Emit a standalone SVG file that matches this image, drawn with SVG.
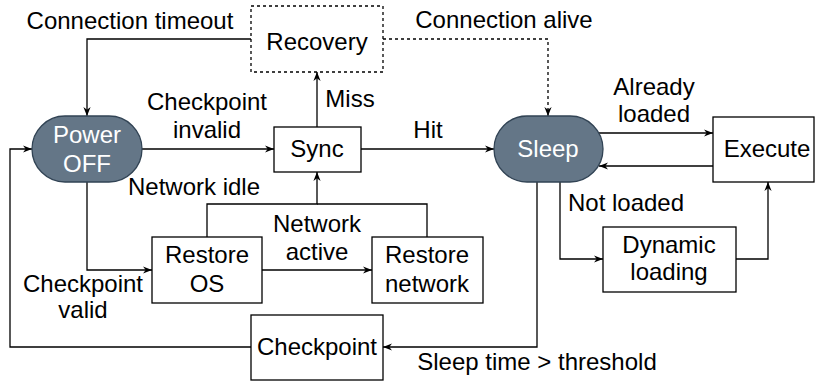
<svg xmlns="http://www.w3.org/2000/svg" width="815" height="381" viewBox="0 0 815 381">
<style>
text{font-family:"Liberation Sans",Arial,sans-serif;font-size:24px;fill:#000;text-anchor:middle}
.box{fill:#fff;stroke:#000;stroke-width:1.3}
.dash{stroke-dasharray:3,3}
.pill{fill:#647687;stroke:#314354;stroke-width:1.3}
.wt{fill:#fff}
.c{fill:none;stroke:#000;stroke-width:1.3}
</style>
<defs>
<marker id="a" viewBox="0 0 10 8" markerWidth="9" markerHeight="7.5" refX="10" refY="4" orient="auto" markerUnits="userSpaceOnUse">
<path d="M0,0 L10,4 L0,8 L3,4 z" fill="#000"/>
</marker>
</defs>
<g id="connectors">
<path class="c" d="M251,39 H87 V116" marker-end="url(#a)"/>
<path class="c" d="M317,127 V72" marker-end="url(#a)"/>
<path class="c" d="M142,149 H274" marker-end="url(#a)"/>
<path class="c" d="M361,149 H494" marker-end="url(#a)"/>
<path class="c dash" d="M383,39 H548 V116" marker-end="url(#a)"/>
<path class="c" d="M599,133 H713" marker-end="url(#a)"/>
<path class="c" d="M713,166 H599" marker-end="url(#a)"/>
<path class="c" d="M560,182 V259 H603" marker-end="url(#a)"/>
<path class="c" d="M736,259 H768 V182" marker-end="url(#a)"/>
<path class="c" d="M537,182 V347 H383" marker-end="url(#a)"/>
<path class="c" d="M251,347 H10 V149 H32" marker-end="url(#a)"/>
<path class="c" d="M87,182 V270 H152" marker-end="url(#a)"/>
<path class="c" d="M262,270 H372" marker-end="url(#a)"/>
<path class="c" d="M207,237 V204 H317 V172" marker-end="url(#a)"/>
<path class="c" d="M427,237 V204 H317"/>
<text x="130" y="29">Connection timeout</text>
<text x="350" y="107">Miss</text>
<text x="207" y="110">Checkpoint</text>
<text x="207" y="138">invalid</text>
<text x="428" y="138">Hit</text>
<text x="504" y="28">Connection alive</text>
<text x="654" y="95">Already</text>
<text x="654" y="122">loaded</text>
<text x="626" y="211">Not loaded</text>
<text x="194" y="195">Network idle</text>
<text x="317" y="232">Network</text>
<text x="317" y="260">active</text>
<text x="83" y="292">Checkpoint</text>
<text x="83" y="318">valid</text>
<text x="537" y="370">Sleep time &gt; threshold</text>
</g>
<g id="recovery"><rect class="box dash" x="251" y="6" width="132" height="66"/><text x="317" y="50">Recovery</text></g>
<g id="poweroff"><rect class="pill" x="32" y="116" width="110" height="66" rx="33"/><text class="wt" x="87" y="143">Power</text><text class="wt" x="87" y="172">OFF</text></g>
<g id="sync"><rect class="box" x="274" y="127" width="87" height="45"/><text x="317" y="157">Sync</text></g>
<g id="sleep"><rect class="pill" x="494" y="116" width="109" height="66" rx="33"/><text class="wt" x="548" y="157">Sleep</text></g>
<g id="execute"><rect class="box" x="713" y="117" width="101" height="65"/><text x="767" y="157">Execute</text></g>
<g id="dynamic"><rect class="box" x="603" y="227" width="133" height="65"/><text x="669" y="253">Dynamic</text><text x="669" y="280">loading</text></g>
<g id="restoreos"><rect class="box" x="152" y="237" width="110" height="66"/><text x="207" y="263">Restore</text><text x="207" y="292">OS</text></g>
<g id="restorenet"><rect class="box" x="372" y="237" width="111" height="66"/><text x="427" y="263">Restore</text><text x="427" y="292">network</text></g>
<g id="checkpoint"><rect class="box" x="251" y="315" width="132" height="65"/><text x="317" y="355">Checkpoint</text></g>
</svg>
